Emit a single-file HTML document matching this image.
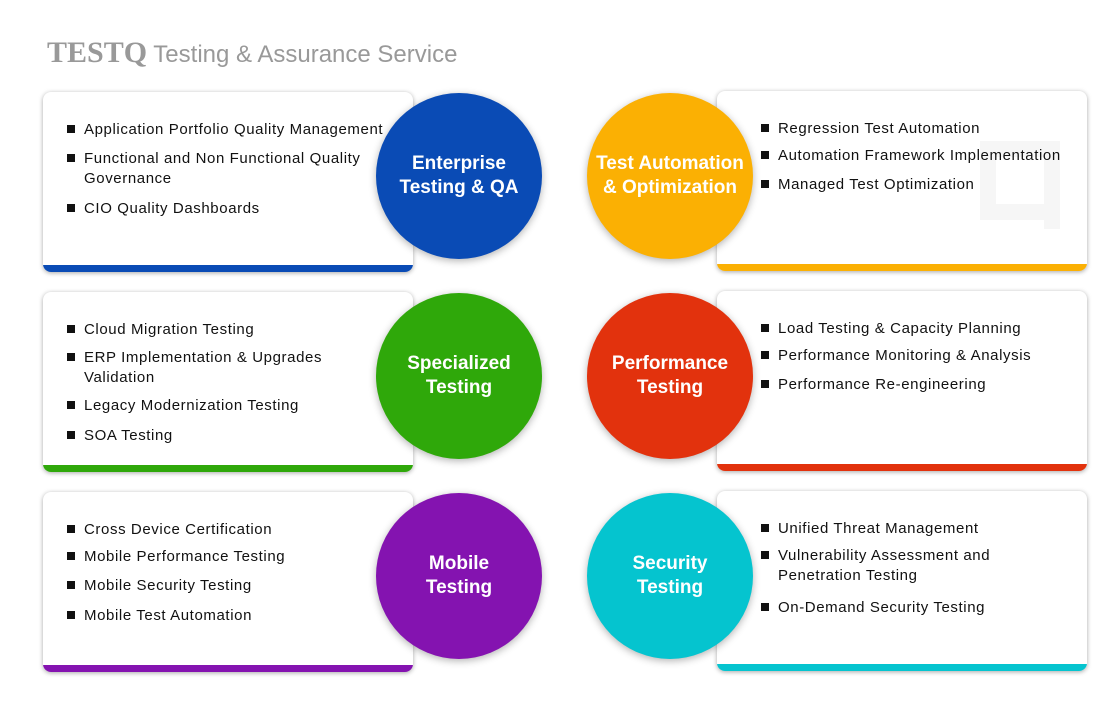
<!DOCTYPE html>
<html><head><style>
body{margin:0;width:1100px;height:705px;background:#fff;position:relative;overflow:hidden;font-family:"Liberation Sans",sans-serif;}
.t{position:absolute;left:47px;top:36px;color:#999;font-size:24px;white-space:nowrap}
.t b{font-family:"Liberation Serif",serif;font-size:30px;font-weight:bold;color:#999}
.card{position:absolute;width:370px;height:180px;background:#fff;border-radius:8px;box-shadow:0 1px 5px rgba(0,0,0,.35);overflow:hidden}
.card .bar{position:absolute;left:0;right:0;bottom:0;height:7px}
.c{position:absolute;width:166px;height:166px;border-radius:50%;color:#fff;font-size:19px;font-weight:bold;display:flex;align-items:center;justify-content:center;text-align:center;line-height:24px;box-shadow:0 2px 8px rgba(0,0,0,.3)}
.it{position:absolute;font-size:15px;color:#111;line-height:20px;white-space:nowrap;letter-spacing:0.6px}
.it:before{content:"";position:absolute;left:-17px;top:5px;width:8px;height:8px;background:#111}
.wm{position:absolute;background:#f6f6f6}
</style></head><body>
<div class="t"><b>TESTQ</b> Testing &amp; Assurance Service</div>

<div class="card" style="left:43px;top:92px"><div class="bar" style="background:#0a4bb5"></div></div>
<div class="card" style="left:717px;top:91px">
<div class="wm" style="left:263px;top:50px;width:16px;height:79px"></div>
<div class="wm" style="left:327px;top:50px;width:16px;height:88px"></div>
<div class="wm" style="left:279px;top:50px;width:48px;height:16px"></div>
<div class="wm" style="left:279px;top:113px;width:48px;height:16px"></div>
<div class="bar" style="background:#fbb003"></div></div>
<div class="card" style="left:43px;top:292px"><div class="bar" style="background:#2fa80a"></div></div>
<div class="card" style="left:717px;top:291px"><div class="bar" style="background:#e2320d"></div></div>
<div class="card" style="left:43px;top:492px"><div class="bar" style="background:#8413b0"></div></div>
<div class="card" style="left:717px;top:491px"><div class="bar" style="background:#05c4cf"></div></div>

<div class="c" style="left:376px;top:93px;background:#0a4bb5">Enterprise<br>Testing &amp; QA</div>
<div class="c" style="left:587px;top:93px;background:#fbb003">Test Automation<br>&amp; Optimization</div>
<div class="c" style="left:376px;top:293px;background:#2fa80a">Specialized<br>Testing</div>
<div class="c" style="left:587px;top:293px;background:#e2320d">Performance<br>Testing</div>
<div class="c" style="left:376px;top:493px;background:#8413b0">Mobile<br>Testing</div>
<div class="c" style="left:587px;top:493px;background:#05c4cf">Security<br>Testing</div>

<div class="it" style="left:84px;top:120px">Application Portfolio Quality Management</div>
<div class="it" style="left:84px;top:149px">Functional and Non Functional Quality<br>Governance</div>
<div class="it" style="left:84px;top:199px">CIO Quality Dashboards</div>

<div class="it" style="left:778px;top:119px">Regression Test Automation</div>
<div class="it" style="left:778px;top:146px">Automation Framework Implementation</div>
<div class="it" style="left:778px;top:175px">Managed Test Optimization</div>

<div class="it" style="left:84px;top:320px">Cloud Migration Testing</div>
<div class="it" style="left:84px;top:348px">ERP Implementation &amp; Upgrades<br>Validation</div>
<div class="it" style="left:84px;top:396px">Legacy Modernization Testing</div>
<div class="it" style="left:84px;top:426px">SOA Testing</div>

<div class="it" style="left:778px;top:319px">Load Testing &amp; Capacity Planning</div>
<div class="it" style="left:778px;top:346px">Performance Monitoring &amp; Analysis</div>
<div class="it" style="left:778px;top:375px">Performance Re-engineering</div>

<div class="it" style="left:84px;top:520px">Cross Device Certification</div>
<div class="it" style="left:84px;top:547px">Mobile Performance Testing</div>
<div class="it" style="left:84px;top:576px">Mobile Security Testing</div>
<div class="it" style="left:84px;top:606px">Mobile Test Automation</div>

<div class="it" style="left:778px;top:519px">Unified Threat Management</div>
<div class="it" style="left:778px;top:546px">Vulnerability Assessment and<br>Penetration Testing</div>
<div class="it" style="left:778px;top:598px">On-Demand Security Testing</div>
</body></html>
